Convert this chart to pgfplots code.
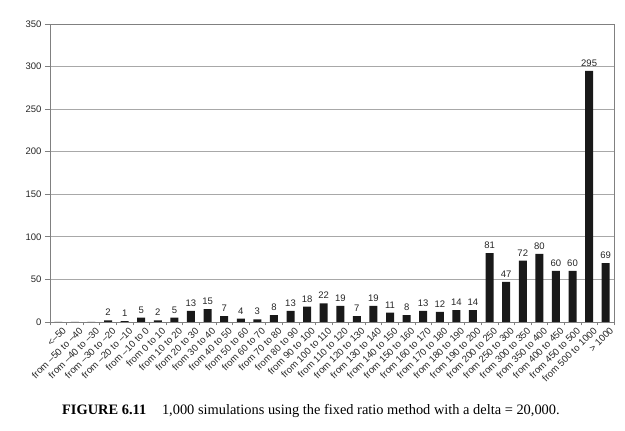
\documentclass[border=0pt]{standalone}
\usepackage{fontspec}
\setmainfont{Liberation Sans}
\newfontfamily\capfont{Liberation Serif}
\usepackage{pgfplots}
\usepackage{pgfplotstable}
\pgfplotsset{compat=1.18}
\pgfplotstableread{
x y lab
0 0 {}
1 0 {}
2 0 {}
3 2 2
4 1 1
5 5 5
6 2 2
7 5 5
8 13 13
9 15 15
10 7 7
11 4 4
12 3 3
13 8 8
14 13 13
15 18 18
16 22 22
17 19 19
18 7 7
19 19 19
20 11 11
21 8 8
22 13 13
23 12 12
24 14 14
25 14 14
26 81 81
27 47 47
28 72 72
29 80 80
30 60 60
31 60 60
32 295 295
33 69 69
}\data
\definecolor{gridgray}{HTML}{A8A8A8}
\definecolor{framegray}{HTML}{808080}
\begin{document}
\begin{tikzpicture}[x=1pt,y=1pt]
\useasboundingbox (-50,-109) rectangle (575,322);
\begin{axis}[
  at={(0,0)}, anchor=south west,
  scale only axis, width=564pt, height=298pt,
  xmin=-0.5, xmax=33.5, ymin=0, ymax=350,
  ytick={0,50,...,350},
  ymajorgrids,
  grid style={draw=gridgray, line width=0.8pt},
  axis line style={draw=framegray, line width=0.8pt},
  tick align=outside,
  ytick pos=left, xtick pos=bottom,
  major tick length=5pt,
  minor tick length=3.5pt,
  major y tick style={draw=framegray, line width=0.8pt},
  major x tick style={draw=none},
  minor x tick style={draw=framegray, line width=0.6pt},
  minor xtick={-0.5,0.5,...,33.5},
  /pgf/number format/assume math mode=true,
  yticklabel style={font=\fontsize{9.5}{10}\selectfont, text=black!85},
  xtick={0,...,33},
  xticklabels={{<–50},{from –50 to –40},{from –40 to –30},{from –30 to –20},{from –20 to –10},{from –10 to 0},{from 0 to 10},{from 10 to 20},{from 20 to 30},{from 30 to 40},{from 40 to 50},{from 50 to 60},{from 60 to 70},{from 70 to 80},{from 80 to 90},{from 90 to 100},{from 100 to 110},{from 110 to 120},{from 120 to 130},{from 130 to 140},{from 140 to 150},{from 150 to 160},{from 160 to 170},{from 170 to 180},{from 180 to 190},{from 190 to 200},{from 200 to 250},{from 250 to 300},{from 300 to 350},{from 350 to 400},{from 400 to 450},{from 450 to 500},{from 500 to 1000},{> 1000}},
  xticklabel style={font=\fontsize{9.6}{10}\selectfont, text=black!85, rotate=45, anchor=north east, inner sep=1pt, xshift=4pt, yshift=-1pt},
]
\addplot[ybar, bar width=8pt, fill=black!90, draw=none,
  nodes near coords, point meta=explicit symbolic,
  every node near coord/.append style={font=\fontsize{9.5}{10}\selectfont, text=black!85, yshift=1pt}]
  table[x=x, y=y, meta=lab] {\data};
\end{axis}
\node[anchor=base west, inner sep=0, font=\capfont\fontsize{14.4}{16}\selectfont] at (12,-93)
  {\textbf{FIGURE 6.11}\hspace{1.1em}1,000 simulations using the fixed ratio method with a delta = 20,000.};
\end{tikzpicture}
\end{document}
